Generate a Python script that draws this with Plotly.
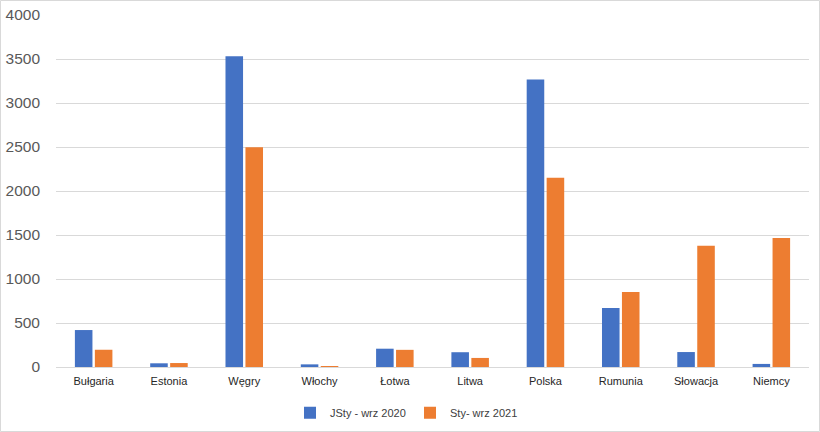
import plotly.graph_objects as go

categories = ["Bułgaria", "Estonia", "Węgry", "Włochy", "Łotwa", "Litwa",
              "Polska", "Rumunia", "Słowacja", "Niemcy"]
series_2020_name = "JSty - wrz 2020"
series_2021_name = "Sty- wrz 2021"
values_2020 = [420, 42, 3532, 30, 208, 168, 3268, 670, 170, 35]
values_2021 = [196, 45, 2498, 3, 195, 103, 2150, 852, 1378, 1466]
y_ticks = [0, 500, 1000, 1500, 2000, 2500, 3000, 3500, 4000]

W, H = 820, 432
ml, mr, mt, mb = 56, 11, 15, 65
pw, ph = W - ml - mr, H - mt - mb

fig = go.Figure()
fig.add_trace(go.Bar(x=categories, y=values_2020, name=series_2020_name,
                     marker=dict(color="#4472C4", line=dict(width=0))))
fig.add_trace(go.Bar(x=categories, y=values_2021, name=series_2021_name,
                     marker=dict(color="#ED7D31", line=dict(width=0))))

fig.update_layout(
    width=W, height=H,
    margin=dict(l=ml, r=mr, t=mt, b=mb, autoexpand=False),
    paper_bgcolor="white", plot_bgcolor="white",
    barmode="group", bargap=0.47, bargroupgap=0.12,
    font=dict(family="Liberation Sans, Arial, sans-serif", color="#404040"),
    showlegend=True,
    legend=dict(orientation="h", x=(290 - ml) / pw, xanchor="left", y=-0.13, yanchor="middle",
                font=dict(size=11, color="#404040"), itemwidth=30,
                entrywidth=75, entrywidthmode="pixels",
                traceorder="normal", itemsizing="constant"),
    xaxis=dict(showgrid=False, showline=False, zeroline=False,
               tickfont=dict(size=11, color="#262626"), ticks="", ticklabelstandoff=6),
    yaxis=dict(range=[0, 4000], tickvals=y_ticks, showgrid=True, gridcolor="#D9D9D9",
               gridwidth=1, zeroline=True, zerolinecolor="#D9D9D9", zerolinewidth=1,
               showline=False, ticks="", tickfont=dict(size=15.5, color="#595959"),
               ticklabelstandoff=15),
    shapes=[dict(type="rect", xref="paper", yref="paper",
                 x0=-(ml - 0.5) / pw, x1=1 + (mr - 0.5) / pw,
                 y0=-(mb - 0.5) / ph, y1=1 + (mt - 0.5) / ph,
                 line=dict(color="#D9D9D9", width=1), layer="below")],
)

fig.write_html("out.html", config={"displayModeBar": False},
               post_script="document.body.style.margin='0';document.body.style.overflow='hidden';")
